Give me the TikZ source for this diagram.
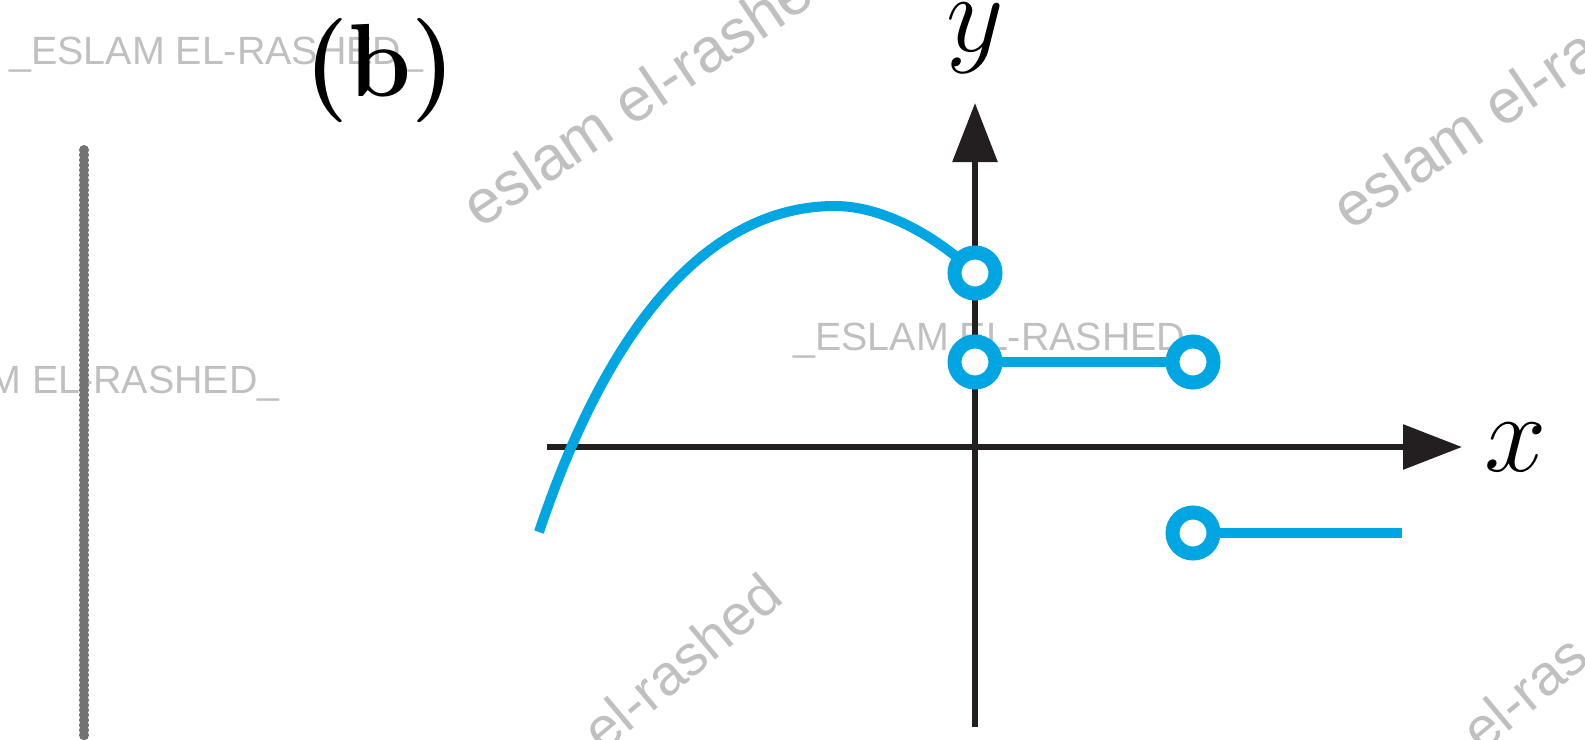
\documentclass[tikz,border=0pt]{standalone}
\usepackage{fontspec}
\newfontfamily\wmfont{Liberation Sans}
\usetikzlibrary{arrows.meta}
\definecolor{curveblue}{RGB}{0,166,226}
\definecolor{axisblack}{RGB}{35,31,32}
\definecolor{wmgray}{RGB}{192,192,192}
\definecolor{bargray}{RGB}{115,115,115}
\begin{document}
\begin{tikzpicture}[x=0.5pt,y=-0.5pt,
  axisline/.style={draw=axisblack,line width=3pt,-{Triangle[length=29.5pt,width=22pt]}},
  curveline/.style={draw=curveblue,line width=5pt},
  opendot/.style={circle,draw=curveblue,fill=white,line width=7pt,minimum size=20.5pt,inner sep=0pt},
  wmh/.style={text=wmgray,inner sep=0pt,font=\wmfont\fontsize{19.7}{22}\selectfont},
  wmr/.style={text=wmgray,inner sep=0pt,anchor=base west,rotate=34,font=\wmfont\fontsize{31}{33}\selectfont},
  wmrb/.style={text=wmgray,inner sep=0pt,anchor=base west,rotate=40,font=\wmfont\fontsize{28.5}{30}\selectfont},
  mathlab/.style={inner sep=0pt}
]
\useasboundingbox (0,0) rectangle (1585,739);
% watermarks
\node[wmh,anchor=base west] (wa) at (9,64) {\_ESLAM EL-RASHED\_};
\node[wmh,anchor=base west] (wb) at (793,350) {\_ESLAM EL-RASHED\_};
\node[wmh,anchor=base east] (wc) at (280,393) {M EL-RASHED\_};
\node[wmr] (wd) at (480,230) {eslam el-rashe};
\node[wmr] (we) at (1350,232) {eslam el-ras};
\node[wmrb] (wf) at (603,754) {el-rashed};
\node[wmrb] (wg) at (1482,754) {el-ras};
% grey bar
\coordinate (barT) at (84,150);
\coordinate (barB) at (84,739);
\draw[bargray!75,line width=3.5pt] (barT) -- (barB);
\draw[bargray,line width=5pt,line cap=round,dash pattern=on 0.1pt off 2.4pt] (barT) -- (barB);
% axes
\coordinate (xL) at (547,447);
\coordinate (xR) at (1462,447);
\coordinate (yB) at (975,727);
\coordinate (yT) at (975,103);
\draw[axisline] (xL) -- (xR);
\draw[axisline] (yB) -- (yT);
\node[mathlab] (xlab) at (1516,447) {\scalebox{2.25}{\Huge$x$}};
\node[mathlab] (ylab) at (975,38) {\scalebox{2.25}{\Huge$y$}};
\node[inner sep=0pt] (blab) at (380,71) {\scalebox{0.97}[1]{\fontsize{52}{60}\selectfont\bfseries(b)}};
% graph
\coordinate (s0) at (539,532);
\coordinate (pk) at (835,206);
\coordinate (p1) at (975,273);
\coordinate (p2) at (975,362);
\coordinate (p3) at (1193,362);
\coordinate (p4) at (1193,533);
\coordinate (e4) at (1402,533);
\draw[curveline] (s0) .. controls (615,305) and (720,206) .. (pk) .. controls (882,206) and (935,235) .. (p1);
\draw[curveline] (p2) -- (p3);
\draw[curveline] (p4) -- (e4);
\node[opendot] (c1) at (p1) {};
\node[opendot] (c2) at (p2) {};
\node[opendot] (c3) at (p3) {};
\node[opendot] (c4) at (p4) {};
\end{tikzpicture}
\end{document}
